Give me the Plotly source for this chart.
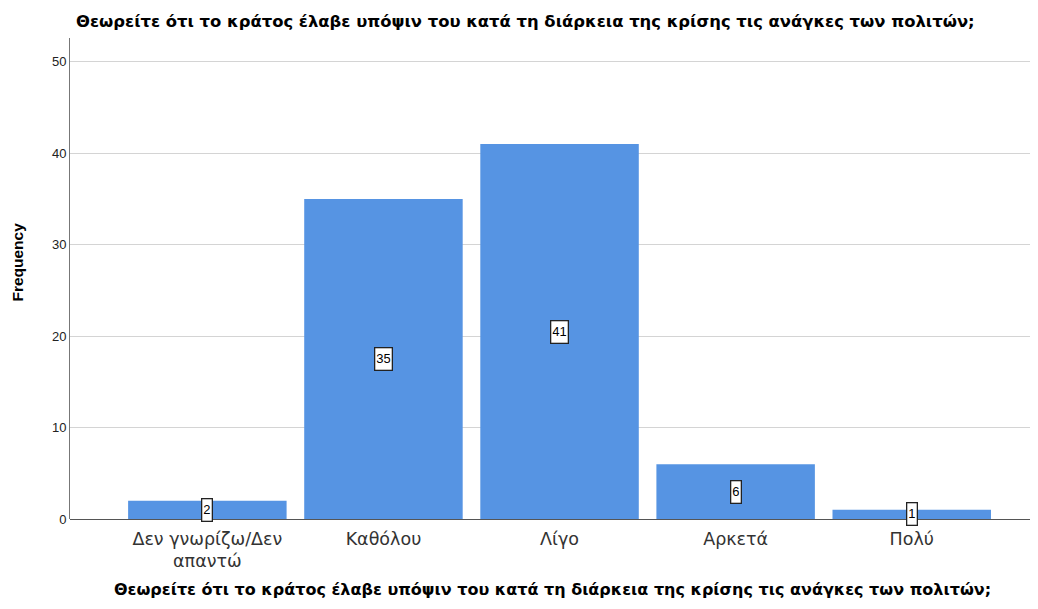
import plotly.graph_objects as go

#--------------------- Data
categories = ["Δεν γνωρίζω/Δεν<br>απαντώ", "Καθόλου", "Λίγο", "Αρκετά", "Πολύ"]
frequency = [2, 35, 41, 6, 1]
y_ticks = [0, 10, 20, 30, 40, 50]

question = "Θεωρείτε ότι το κράτος έλαβε υπόψιν του κατά τη διάρκεια της κρίσης τις ανάγκες των πολιτών;"

#--------------------- Figure
fig = go.Figure()
fig.add_trace(go.Bar(x=list(range(len(categories))), y=frequency,
                     marker=dict(color="#5694e3", line=dict(width=0)),
                     width=0.9, hoverinfo="y"))

# boxed value labels in the middle of each bar
for i, v in enumerate(frequency):
    fig.add_annotation(x=i, y=v / 2, text=str(v), showarrow=False,
                       font=dict(family="Arial", size=13, color="black"),
                       bgcolor="white", bordercolor="#222", borderwidth=1.3,
                       borderpad=1, height=19)

# y axis title placed by hand (sits a bit above the plot middle)
fig.add_annotation(xref="paper", yref="paper", x=-0.054, y=0.535,
                   text="<b>Frequency</b>", textangle=-90, showarrow=False,
                   xanchor="center", yanchor="middle",
                   font=dict(family="Arial", size=15.5, color="black"))

fig.update_xaxes(range=[-0.78, 4.70], tickmode="array",
                 tickvals=list(range(len(categories))), ticktext=categories,
                 showgrid=False, showline=False, zeroline=False, ticks="",
                 ticklabelstandoff=7,
                 tickfont=dict(family="DejaVu Sans", size=17.5, color="#333"),
                 title=dict(text="<b>" + question + "</b>", standoff=13,
                            font=dict(family="DejaVu Sans", size=16, color="black")))
fig.update_yaxes(range=[0, 52.6], tickvals=y_ticks, showgrid=True,
                 gridcolor="#d4d4d4", gridwidth=1, zeroline=True,
                 zerolinecolor="#555", zerolinewidth=1,
                 showline=True, linecolor="#777", linewidth=1,
                 ticks="", ticklen=4,
                 tickfont=dict(family="Arial", size=13, color="#222"))

fig.update_layout(width=1030, height=601, showlegend=False,
                  plot_bgcolor="white", paper_bgcolor="white",
                  margin=dict(l=62, r=3, t=30, b=90),
                  title=dict(text="<b>" + question + "</b>", x=0.066, xanchor="left",
                             y=0.978, yanchor="middle",
                             font=dict(family="DejaVu Sans", size=16.4, color="black")))

fig.write_html("out.html")
